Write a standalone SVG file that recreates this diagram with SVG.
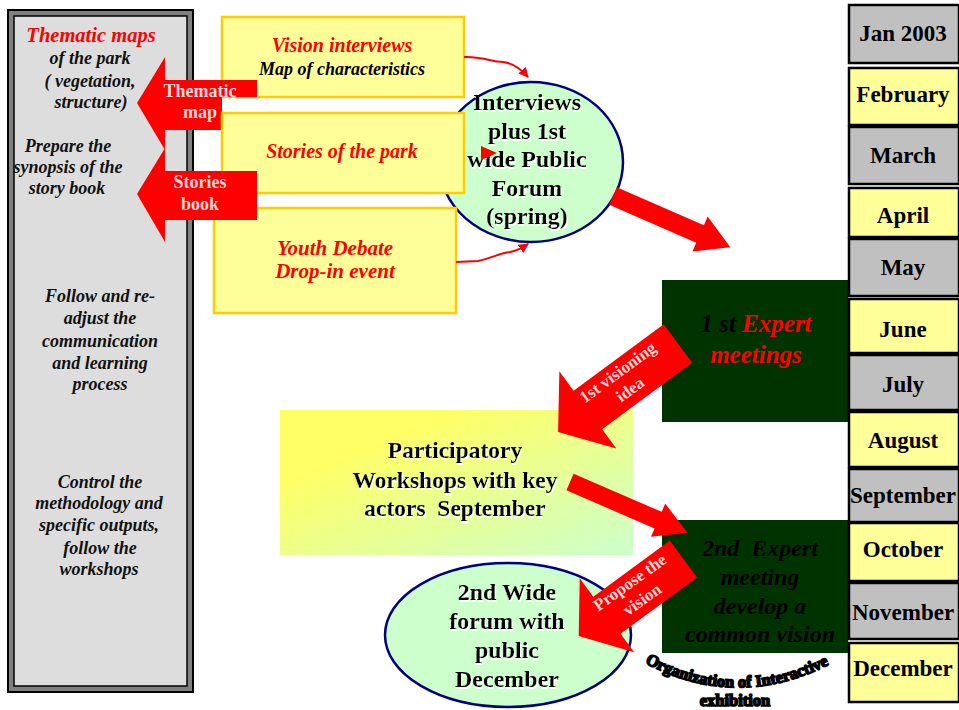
<svg xmlns="http://www.w3.org/2000/svg" width="959" height="710" viewBox="0 0 959 710">
<style>
text{font-family:"Liberation Serif","Times New Roman",serif;font-weight:bold;text-anchor:middle}
.i{font-style:italic}
.red{fill:#FF0000}
.blk{fill:#000}
.sh{filter:url(#ws)}
.lbl{fill:#F4D8D8;font-size:18px}
.ybox{fill:#FFFF99;stroke:#FFCC00;stroke-width:2.5}
.ell{fill:#CCFFCC;stroke:#000080;stroke-width:2.5}
.dark{fill:#003300}
.arrow{fill:#FF0000}
.wavy{fill:none;stroke:#FF0000;stroke-width:2}
.mg{fill:#C0C0C0;stroke:#000;stroke-width:2.5}
.my{fill:#FFFF99;stroke:#000;stroke-width:2.5}
.mt{font-size:23px;fill:#000}
.pt{font-size:18px;fill:#111}
.big{font-size:24px}
.ex{font-size:16.5px;fill:#000;stroke:#000;stroke-width:1.6}
</style>
<defs>
<filter id="ws" x="-10%" y="-20%" width="120%" height="150%">
<feDropShadow dx="1" dy="2" stdDeviation="0" flood-color="#FFFFFF" flood-opacity="1"/>
</filter>
<marker id="ah" viewBox="0 0 10 10" refX="9" refY="5" markerWidth="5" markerHeight="5" orient="auto">
<path d="M0,0 L10,5 L0,10 Z" fill="#FF0000"/>
</marker>
<linearGradient id="pg" x1="0" y1="0" x2="1" y2="1">
<stop offset="0.25" stop-color="#FFFF66"/>
<stop offset="1" stop-color="#CCFFCC"/>
</linearGradient>
<path id="arc" d="M 636 658 Q 736 716 838 660"/>
</defs>
<rect width="959" height="710" fill="#FFFFFF"/>

<g id="panel">
<rect x="8" y="10" width="185" height="682" fill="#808080" stroke="#000" stroke-width="2"/>
<rect x="14" y="16" width="173" height="670" fill="#DDDDDD"/>
<text class="i red" x="91" y="42" style="font-size:20.5px">Thematic maps</text>
<text class="i pt" x="90" y="64">of the park</text>
<text class="i pt" x="90" y="87">( vegetation,</text>
<text class="i pt" x="91" y="108">structure)</text>
<text class="i pt" x="68" y="152">Prepare the</text>
<text class="i pt" x="68" y="173">synopsis of the</text>
<text class="i pt" x="67" y="194">story book</text>
<text class="i pt" x="100" y="302">Follow and re-</text>
<text class="i pt" x="100" y="324">adjust the</text>
<text class="i pt" x="100" y="347">communication</text>
<text class="i pt" x="100" y="369">and learning</text>
<text class="i pt" x="100" y="390">process</text>
<text class="i pt" x="100" y="488">Control the</text>
<text class="i pt" x="99" y="509">methodology and</text>
<text class="i pt" x="99" y="531">specific outputs,</text>
<text class="i pt" x="100" y="554">follow the</text>
<text class="i pt" x="99" y="575">workshops</text>
<rect x="14" y="16" width="173" height="670" fill="none" stroke="#000" stroke-width="1.5"/>
</g>

<g id="forum1">
<ellipse class="ell" cx="531" cy="162" rx="92" ry="80"/>
<g class="sh">
<text class="blk big" x="527" y="110">Interviews</text>
<text class="blk big" x="527" y="139">plus 1st</text>
<text class="blk big" x="527" y="167">wide Public</text>
<text class="blk big" x="527" y="196">Forum</text>
<text class="blk big" x="527" y="224">(spring)</text>
</g>
</g>

<g id="vision">
<rect class="ybox" x="222" y="17" width="242" height="80"/>
<text class="i red" x="342" y="52" style="font-size:20px">Vision interviews</text>
<text class="i blk" x="342" y="75" style="font-size:18px">Map of characteristics</text>
</g>

<g id="thematic-arrow">
<polygon class="arrow" points="137,103 165,57 165,80 257,80 257,97 222,97 222,130 165,130 165,150"/>
<text class="lbl" x="200" y="97">Thematic</text>
<text class="lbl" x="200" y="118">map</text>
</g>

<g id="stories">
<rect class="ybox" x="222" y="113" width="242" height="80"/>
<text class="i red" x="342" y="158" style="font-size:20px">Stories of the park</text>
</g>

<g id="youth">
<rect class="ybox" x="214" y="208" width="242" height="105"/>
<text class="i red" x="335" y="255" style="font-size:21px">Youth Debate</text>
<text class="i red" x="335" y="278" style="font-size:21px">Drop-in event</text>
</g>

<g id="stories-arrow">
<polygon class="arrow" points="137,194 165,148 165,171 257,171 257,220 165,220 165,242"/>
<text class="lbl" x="200" y="188">Stories</text>
<text class="lbl" x="200" y="210">book</text>
</g>

<g id="expert1">
<rect class="dark" x="662" y="280" width="186" height="142"/>
<text class="i" x="756" y="332" style="font-size:25px"><tspan fill="#000">1 st </tspan><tspan fill="#FF0000">Expert</tspan></text>
<text class="i red" x="756" y="363" style="font-size:25px">meetings</text>
</g>

<g id="workshops">
<rect x="280" y="410" width="353" height="145" fill="url(#pg)"/>
<g class="sh">
<text class="blk" x="455" y="458" style="font-size:23.5px">Participatory</text>
<text class="blk" x="455" y="488" style="font-size:23.5px">Workshops with key</text>
<text class="blk" x="455" y="516" style="font-size:23.5px" xml:space="preserve">actors  September</text>
</g>
</g>

<g id="expert2">
<rect class="dark" x="662" y="520" width="186" height="133"/>
<text class="i blk" x="760" y="556" style="font-size:24px" xml:space="preserve">2nd  Expert</text>
<text class="i blk" x="760" y="585" style="font-size:24px">meeting</text>
<text class="i blk" x="760" y="614" style="font-size:24px">develop a</text>
<text class="i blk" x="760" y="642" style="font-size:24px">common vision</text>
</g>

<g id="forum2">
<ellipse class="ell" cx="508" cy="635" rx="123" ry="72"/>
<g class="sh">
<text class="blk big" x="507" y="600">2nd Wide</text>
<text class="blk big" x="507" y="629">forum with</text>
<text class="blk big" x="507" y="658">public</text>
<text class="blk big" x="507" y="687">December</text>
</g>
</g>

<g id="exhibition">
<text class="ex"><textPath href="#arc" startOffset="50%">Organization of Interactive</textPath></text>
<text class="ex" x="735" y="706">exhibition</text>
</g>

<g id="months">
<g id="m01"><rect class="mg" x="849" y="5" width="110" height="58"/><text class="mt" x="903" y="41">Jan 2003</text></g>
<g id="m02"><rect class="my" x="849" y="68" width="110" height="57"/><text class="mt" x="903" y="102">February</text></g>
<g id="m03"><rect class="mg" x="849" y="127" width="110" height="57"/><text class="mt" x="903" y="163">March</text></g>
<g id="m04"><rect class="my" x="849" y="188" width="110" height="49"/><text class="mt" x="903" y="223">April</text></g>
<g id="m05"><rect class="mg" x="849" y="239" width="110" height="57"/><text class="mt" x="903" y="275">May</text></g>
<g id="m06"><rect class="my" x="849" y="299" width="110" height="54"/><text class="mt" x="903" y="337">June</text></g>
<g id="m07"><rect class="mg" x="849" y="355" width="110" height="55"/><text class="mt" x="903" y="392">July</text></g>
<g id="m08"><rect class="my" x="849" y="412" width="110" height="55"/><text class="mt" x="903" y="448">August</text></g>
<g id="m09"><rect class="mg" x="849" y="469" width="110" height="53"/><text class="mt" x="903" y="503">September</text></g>
<g id="m10"><rect class="my" x="849" y="523" width="110" height="58"/><text class="mt" x="903" y="557">October</text></g>
<g id="m11"><rect class="mg" x="849" y="583" width="110" height="56"/><text class="mt" x="903" y="620">November</text></g>
<g id="m12"><rect class="my" x="849" y="643" width="110" height="59"/><text class="mt" x="903" y="676">December</text></g>
</g>

<g id="connectors">
<path class="wavy" d="M464,57 C480,56 492,62 503,62 C512,63 520,68 528,77" marker-end="url(#ah)"/>
<polygon class="arrow" points="481,146 497,153 481,160"/>
<path class="wavy" d="M456,262 L478,261 C492,258 500,253 510,252 C516,251 522,248 528,244" marker-end="url(#ah)"/>
<polygon class="arrow" transform="translate(613,196) rotate(23.6)" points="0,-9.5 95,-9.5 95,-19 128,0 95,19 95,9.5 0,9.5"/>
<polygon class="arrow" transform="translate(678,343.5) rotate(143.6)" points="0,-24 112,-24 112,-48 149,0 112,48 112,24 0,24"/>
<g transform="translate(624,381) rotate(-36.4)">
<text class="lbl" x="0" y="-5" style="font-size:17px">1st visioning</text>
<text class="lbl" x="0" y="16" style="font-size:17px">idea</text>
</g>
<polygon class="arrow" transform="translate(570,482) rotate(23.4)" points="0,-9 96,-9 96,-18 128,0 96,18 96,9 0,9"/>
<polygon class="arrow" transform="translate(683.5,559) rotate(143.7)" points="0,-23 95,-23 95,-46 130,0 95,46 95,23 0,23"/>
<g transform="translate(636,591) rotate(-35.5)">
<text class="lbl" x="0" y="-5" style="font-size:17px">Propose the</text>
<text class="lbl" x="0" y="16" style="font-size:17px">vision</text>
</g>
</g>
</svg>
